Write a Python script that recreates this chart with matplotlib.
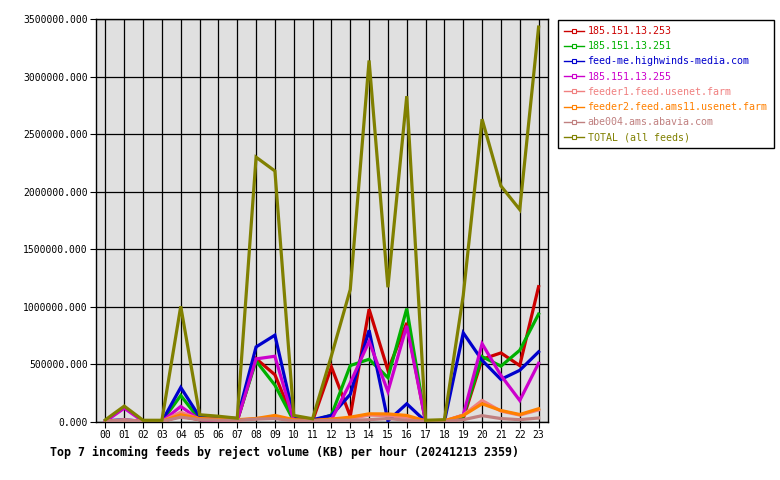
import matplotlib
matplotlib.use("Agg")
import matplotlib.pyplot as plt
from matplotlib.ticker import FormatStrFormatter
from matplotlib.lines import Line2D

# hours of the day
hours = ["%02d" % h for h in range(24)]

# reject volume (KB) per hour
red_253 = [5000, 10000, 5000, 5000, 50000, 20000, 15000, 10000, 550000, 410000, 10000, 10000,
           478000, 50000, 980000, 450000, 860000, 5000, 5000, 30000, 545000, 600000, 490000, 1175000]
green_251 = [5000, 10000, 5000, 5000, 230000, 20000, 20000, 15000, 530000, 320000, 10000, 10000,
             60000, 490000, 545000, 385000, 985000, 5000, 5000, 50000, 568000, 485000, 623000, 937000]
blue_highwinds = [10000, 20000, 5000, 5000, 300000, 45000, 40000, 30000, 652000, 754000, 42000, 20000,
                  57000, 240000, 797000, 10000, 158000, 5000, 5000, 774000, 536000, 370000, 449000, 609000]
magenta_255 = [5000, 120000, 5000, 5000, 135000, 20000, 15000, 10000, 548000, 571000, 10000, 10000,
               20000, 340000, 700000, 265000, 835000, 5000, 5000, 60000, 680000, 405000, 187000, 510000]
salmon_feeder1 = [5000, 20000, 5000, 5000, 85000, 25000, 20000, 15000, 30000, 40000, 15000, 10000,
                  20000, 30000, 60000, 55000, 40000, 10000, 10000, 60000, 187000, 95000, 60000, 105000]
orange_feeder2 = [5000, 10000, 5000, 5000, 63000, 30000, 25000, 20000, 30000, 57000, 20000, 15000,
                  25000, 42000, 71000, 70000, 57000, 10000, 10000, 57000, 158000, 100000, 65000, 115000]
rosy_abe004 = [5000, 15000, 5000, 5000, 42000, 20000, 15000, 15000, 25000, 30000, 10000, 10000,
               15000, 15000, 20000, 30000, 15000, 5000, 5000, 20000, 55000, 30000, 20000, 35000]
total_all = [19000, 138000, 15000, 15000, 1005000, 63000, 50000, 33000, 2300000, 2180000, 57000, 28000,
             575000, 1150000, 3140000, 1170000, 2830000, 15000, 20000, 1100000, 2630000, 2050000, 1845000, 3430000]

series = [
    ("185.151.13.253", red_253, "#cc0000"),
    ("185.151.13.251", green_251, "#00b000"),
    ("feed-me.highwinds-media.com", blue_highwinds, "#0000cc"),
    ("185.151.13.255", magenta_255, "#cc00cc"),
    ("feeder1.feed.usenet.farm", salmon_feeder1, "#f08080"),
    ("feeder2.feed.ams11.usenet.farm", orange_feeder2, "#ff8000"),
    ("abe004.ams.abavia.com", rosy_abe004, "#c08080"),
    ("TOTAL (all feeds)", total_all, "#808000"),
]

mono = "DejaVu Sans Mono"

fig = plt.figure(figsize=(7.8, 4.8), dpi=100, facecolor="white")
ax = fig.add_axes([96 / 780, 1 - 422 / 480, 452 / 780, 403 / 480])
ax.set_facecolor("#e0e0e0")

x = list(range(len(hours)))
for name, vals, col in series:
    ax.plot(x, vals, color=col, linewidth=2.3, solid_joinstyle="miter", zorder=3)

ax.set_xlim(-0.5, 23.5)
ax.set_ylim(0, 3500000)
ax.set_xticks(x)
ax.set_xticklabels(hours, fontfamily=mono, fontsize=7)
ax.set_yticks([0, 500000, 1000000, 1500000, 2000000, 2500000, 3000000, 3500000])
ax.yaxis.set_major_formatter(FormatStrFormatter("%.3f"))
for lab in ax.get_yticklabels():
    lab.set_fontfamily(mono)
    lab.set_fontsize(7)
ax.tick_params(direction="out", length=4, width=0.8, colors="black", pad=2)
ax.grid(True, color="black", linewidth=0.9, zorder=1)
ax.set_axisbelow(True)
for sp in ax.spines.values():
    sp.set_color("black")
    sp.set_linewidth(1.0)

# legend: line with a small hollow square, label in the series colour
leg_lines = [Line2D([0], [0], color=c, linewidth=1.0, marker="s", markersize=3,
                    markerfacecolor="white", markeredgecolor=c, markeredgewidth=0.8)
             for _, _, c in series]
leg = fig.legend(leg_lines, [n for n, _, _ in series], loc="upper left",
                 bbox_to_anchor=(558 / 780, 1 - 20 / 480), borderaxespad=0,
                 prop={"family": mono, "size": 7.2}, frameon=True, fancybox=False,
                 edgecolor="black", framealpha=1, handlelength=2.0, handletextpad=0.35,
                 labelspacing=0.52, borderpad=0.6)
leg.get_frame().set_linewidth(1.0)
for txt, (_, _, c) in zip(leg.get_texts(), series):
    txt.set_color(c)

fig.text(50 / 780, 1 - 452 / 480, "Top 7 incoming feeds by reject volume (KB) per hour (20241213 2359)",
         fontfamily=mono, fontweight="bold", fontsize=8.35, va="center", ha="left")

fig.savefig("out.png", dpi=100, facecolor="white")
